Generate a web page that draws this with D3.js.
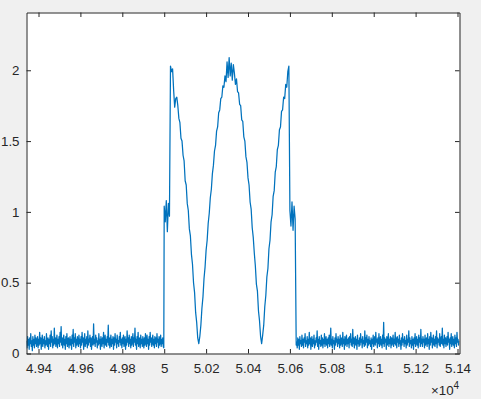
<!DOCTYPE html>
<html>
<head>
<meta charset="utf-8">
<script src="https://cdn.jsdelivr.net/npm/d3@7"></script>
<style>
  html, body { margin: 0; padding: 0; background: #f0f0f0; }
  svg { display: block; }
  text { font-family: "Liberation Sans", Arial, sans-serif; fill: #262626; }
</style>
</head>
<body>
<svg id="chart" width="481" height="399"></svg>
<script>
// ---- data ----
// baseline noise before the pulse: x = 49343, 49345.5, ... (step 2.5)
const leftX0 = 49343, leftStep = 2.5;
const leftBaseline = [
0.09,0.04,0.12,0.06,0.10,0.03,0.11,0.07,0.14,0.05,0.09,0.02,0.12,0.06,0.10,0.04,0.13,0.07,0.11,0.05,
0.08,0.12,0.04,0.10,0.06,0.15,0.07,0.11,0.03,0.09,0.13,0.05,0.10,0.07,0.12,0.04,0.09,0.06,0.14,0.08,
0.05,0.11,0.03,0.10,0.07,0.13,0.05,0.16,0.08,0.12,0.04,0.10,0.06,0.18,0.07,0.11,0.05,0.09,0.13,0.04,
0.10,0.07,0.12,0.05,0.15,0.08,0.19,0.06,0.11,0.04,0.09,0.13,0.06,0.10,0.03,0.12,0.07,0.14,0.05,0.09,
0.11,0.04,0.08,0.12,0.06,0.10,0.03,0.13,0.07,0.17,0.05,0.11,0.08,0.14,0.04,0.10,0.06,0.12,0.09,0.05,
0.13,0.07,0.10,0.04,0.12,0.06,0.15,0.08,0.11,0.03,0.09,0.14,0.05,0.10,0.07,0.12,0.04,0.16,0.06,0.10,
0.08,0.13,0.05,0.11,0.03,0.09,0.12,0.06,0.21,0.07,0.10,0.05,0.13,0.08,0.11,0.04,0.09,0.06,0.14,0.07,
0.10,0.03,0.12,0.08,0.05,0.11,0.07,0.15,0.04,0.09,0.13,0.06,0.10,0.05,0.12,0.08,0.20,0.06,0.11,0.04,
0.09,0.13,0.05,0.10,0.07,0.12,0.03,0.11,0.06,0.14,0.08,0.10,0.04,0.13,0.07,0.09,0.05,0.12,0.08,0.15,
0.06,0.10,0.04,0.11,0.07,0.13,0.05,0.09,0.12,0.03,0.10,0.06,0.16,0.08,0.11,0.05,0.13,0.07,0.10,0.04,
0.12,0.06,0.09,0.14,0.05,0.11,0.08,0.18,0.06,0.10,0.03,0.12,0.07,0.15,0.05,0.09,0.11,0.04,0.13,0.07,
0.10,0.05,0.12,0.08,0.04,0.11,0.06,0.14,0.09,0.05,0.13,0.07,0.10,0.03,0.12,0.06,0.15,0.08,0.11,0.05,
0.09,0.13,0.06,0.10,0.04,0.12,0.07,0.11,0.05,0.14,0.08,0.10,0.04,0.12,0.06,0.09,0.13,0.05,0.10,0.07,
0.11,0.05,0.04
];

// pulse: x = 50000, 50005, ... 50630 (step 5)
const pulseX0 = 50000, pulseStep = 5;
const pulse = [
1.04,0.93,1.08,0.86,1.06,0.97,
2.03,1.99,2.01,1.86,1.74,1.80,1.81,1.75,1.66,1.63,1.52,1.50,1.40,1.36,
1.22,1.19,1.06,1.01,0.88,0.83,0.70,0.63,0.50,0.43,0.29,0.22,0.11,0.07,
0.12,0.20,0.32,0.40,0.53,0.61,0.73,0.80,0.92,0.99,1.10,1.16,1.27,1.33,
1.43,1.47,1.57,1.60,1.70,1.72,1.80,1.81,1.89,1.88,1.96,1.92,2.06,1.95,
2.09,1.96,2.05,1.93,2.04,1.98,1.90,1.94,1.85,1.84,1.76,1.75,1.65,1.64,
1.53,1.50,1.39,1.35,1.24,1.19,1.07,1.02,0.89,0.82,0.71,0.62,0.49,0.44,
0.30,0.23,0.12,0.07,0.13,0.20,0.33,0.41,0.54,0.60,0.74,0.80,0.93,0.98,
1.11,1.15,1.28,1.32,1.44,1.47,1.58,1.60,1.71,1.72,1.81,1.80,1.90,1.88,
1.99,2.03,
1.01,0.90,1.07,0.87,1.04,0.95,
0.06
];

// baseline noise after the pulse: x = 50632.5, 50635, ... (step 2.5)
const rightX0 = 50632.5, rightStep = 2.5;
const rightBaseline = [
0.08,0.04,0.11,0.06,0.10,0.03,0.12,0.07,0.09,0.05,0.13,0.06,0.10,0.04,0.11,0.08,0.14,0.05,0.09,0.07,
0.12,0.04,0.10,0.06,0.15,0.07,0.11,0.03,0.09,0.12,0.05,0.10,0.07,0.13,0.04,0.09,0.06,0.11,0.08,0.16,
0.05,0.10,0.03,0.12,0.07,0.09,0.05,0.13,0.06,0.11,0.04,0.10,0.07,0.14,0.05,0.09,0.12,0.06,0.10,0.04,
0.11,0.07,0.13,0.05,0.09,0.18,0.06,0.10,0.04,0.12,0.07,0.09,0.03,0.11,0.06,0.14,0.08,0.10,0.05,0.12,
0.07,0.10,0.04,0.13,0.06,0.09,0.11,0.05,0.15,0.07,0.10,0.03,0.12,0.06,0.09,0.13,0.05,0.10,0.07,0.11,
0.04,0.12,0.08,0.14,0.06,0.10,0.05,0.17,0.07,0.11,0.04,0.09,0.12,0.06,0.10,0.03,0.13,0.07,0.09,0.05,
0.11,0.06,0.14,0.08,0.10,0.04,0.12,0.07,0.09,0.05,0.16,0.06,0.11,0.08,0.13,0.04,0.10,0.06,0.12,0.07,
0.09,0.05,0.11,0.03,0.10,0.07,0.13,0.05,0.09,0.12,0.06,0.15,0.08,0.10,0.04,0.11,0.07,0.14,0.05,0.09,
0.12,0.06,0.10,0.04,0.13,0.07,0.22,0.05,0.11,0.08,0.10,0.03,0.12,0.06,0.09,0.14,0.05,0.10,0.07,0.12,
0.04,0.11,0.06,0.09,0.13,0.05,0.10,0.07,0.15,0.06,0.11,0.04,0.12,0.08,0.10,0.05,0.13,0.07,0.09,0.03,
0.11,0.06,0.14,0.08,0.10,0.05,0.12,0.07,0.09,0.04,0.13,0.06,0.10,0.08,0.16,0.05,0.11,0.07,0.09,0.04,
0.12,0.06,0.10,0.03,0.11,0.07,0.14,0.05,0.09,0.12,0.06,0.10,0.04,0.13,0.08,0.11,0.05,0.17,0.07,0.10,
0.05,0.12,0.08,0.10,0.04,0.13,0.06,0.09,0.11,0.05,0.14,0.07,0.10,0.03,0.12,0.06,0.15,0.08,0.11,0.04,
0.09,0.13,0.06,0.10,0.05,0.12,0.07,0.16,0.04,0.11,0.08,0.10,0.06,0.14,0.05,0.09,0.12,0.07,0.18,0.06,
0.10,0.04,0.13,0.07,0.11,0.05,0.09,0.12,0.06,0.15,0.08,0.10,0.03,0.11,0.07,0.14,0.05,0.09,0.12,0.06,
0.10,0.04,0.13,0.07,0.11,0.05,0.15,0.08,0.10,0.06,0.09
];

const xTicks = [49400,49600,49800,50000,50200,50400,50600,50800,51000,51200,51400];
const xTickLabels = ['4.94','4.96','4.98','5','5.02','5.04','5.06','5.08','5.1','5.12','5.14'];
const yTicks = [0,0.5,1,1.5,2];
const yTickLabels = ['0','0.5','1','1.5','2'];
const xExponent = '4';

// ---- build ----
const data = []
  .concat(leftBaseline.map((v, i) => ({x: leftX0 + i * leftStep, y: v})))
  .concat(pulse.map((v, i) => ({x: pulseX0 + i * pulseStep, y: v})))
  .concat(rightBaseline.map((v, i) => ({x: rightX0 + i * rightStep, y: v})));

const L = 26.5, R = 459.5, T = 12.5, B = 353.5;
const x = d3.scaleLinear().domain([49342.7, 51409.5]).range([L, R]);
const y = d3.scaleLinear().domain([0, 2.408]).range([B, T]);

const svg = d3.select('#chart');
const axisColor = '#262626';

svg.append('rect').attr('x', L).attr('y', T).attr('width', R - L).attr('height', B - T).attr('fill', '#ffffff');

svg.append('clipPath').attr('id', 'clip')
  .append('rect').attr('x', L).attr('y', T).attr('width', R - L).attr('height', B - T);

const line = d3.line().x(d => x(d.x)).y(d => y(d.y));
svg.append('path').datum(data)
  .attr('clip-path', 'url(#clip)')
  .attr('fill', 'none')
  .attr('stroke', '#0072BD')
  .attr('stroke-width', 1.25)
  .attr('stroke-linejoin', 'round')
  .attr('d', line);

const tk = 4.5;
function styleAxis(g) {
  g.selectAll('.domain').attr('stroke', axisColor);
  g.selectAll('.tick line').attr('stroke', axisColor);
  g.selectAll('.tick text').attr('fill', axisColor)
    .style('font-family', '"Liberation Sans", Arial, sans-serif')
    .style('font-size', '13.3px');
}

const gx = svg.append('g').attr('transform', `translate(0,${B})`)
  .call(d3.axisBottom(x).tickValues(xTicks).tickFormat((d, i) => xTickLabels[i])
    .tickSizeInner(-tk).tickSizeOuter(0).tickPadding(10.5));
styleAxis(gx);

const gxt = svg.append('g').attr('transform', `translate(0,${T})`)
  .call(d3.axisTop(x).tickValues(xTicks).tickFormat('')
    .tickSizeInner(-tk).tickSizeOuter(0));
styleAxis(gxt);

const gy = svg.append('g').attr('transform', `translate(${L},0)`)
  .call(d3.axisLeft(y).tickValues(yTicks).tickFormat((d, i) => yTickLabels[i])
    .tickSizeInner(-tk).tickSizeOuter(0).tickPadding(7));
styleAxis(gy);

const gyr = svg.append('g').attr('transform', `translate(${R},0)`)
  .call(d3.axisRight(y).tickValues(yTicks).tickFormat('')
    .tickSizeInner(-tk).tickSizeOuter(0));
styleAxis(gyr);

// exponent label
const ex = svg.append('text')
  .attr('x', 431).attr('y', 395)
  .style('font-size', '13.3px');
ex.append('tspan').text('\u00d710');
ex.append('tspan').attr('dy', -6).style('font-size', '10px').text(xExponent);
</script>
</body>
</html>
